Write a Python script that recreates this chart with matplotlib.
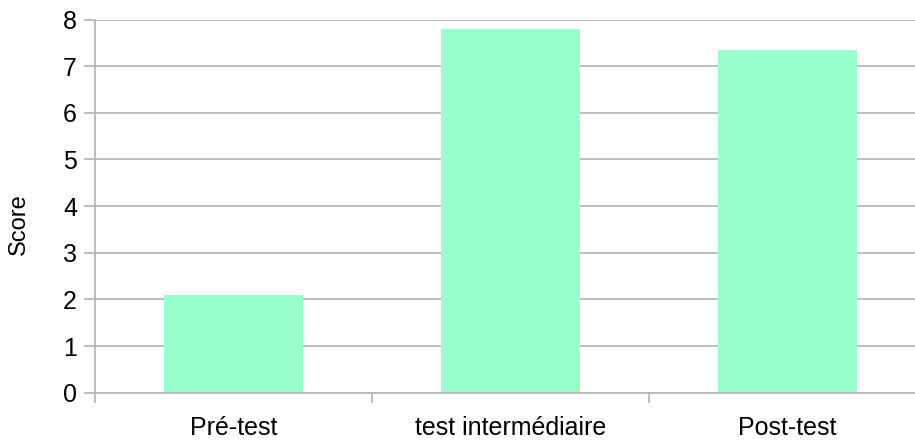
import matplotlib
matplotlib.use("Agg")
import matplotlib.pyplot as plt
import numpy as np

categories = ["Pré-test", "test intermédiaire", "Post-test"]
scores = [2.1, 7.8, 7.35]
y_ticks = [0, 1, 2, 3, 4, 5, 6, 7, 8]

plt.rcParams['font.family'] = ['Liberation Sans', 'DejaVu Sans']
W, H = 915, 441
fig = plt.figure(figsize=(W/100, H/100), dpi=100)
left, right, top, bottom = 95, 926, 19.5, 392.7
ax = fig.add_axes([left/W, 1 - bottom/H, (right-left)/W, (bottom-top)/H])

x = np.arange(len(categories))
ax.bar(x, scores, width=0.5, color="#99FFCC", zorder=2)
ax.set_xlim(-0.5, len(categories) - 0.5)
ax.set_ylim(0, 8)
ax.set_yticks(y_ticks)
ax.set_yticklabels([str(t) for t in y_ticks], fontsize=18)
ax.yaxis.grid(True, color="#b3b3b3", linewidth=1.2, zorder=0)
ax.set_axisbelow(True)

ax.set_xticks(np.arange(-0.5, len(categories), 1.0))
ax.set_xticklabels([])
ax.set_xticks(x, minor=True)
ax.set_xticklabels(categories, minor=True, fontsize=18)
ax.tick_params(axis='x', which='minor', length=0, pad=17)
ax.tick_params(axis='x', which='major', length=7.5, color="#b3b3b3", width=1.2)
ax.tick_params(axis='y', length=8, color="#b3b3b3", width=1.2, pad=5)

for s in ['top', 'right']:
    ax.spines[s].set_visible(False)
for s in ['left', 'bottom']:
    ax.spines[s].set_color("#b3b3b3")
    ax.spines[s].set_linewidth(1.2)

ax.set_ylabel("Score", fontsize=17)
ax.yaxis.set_label_coords(-(95 - 30) / (right - left), 1 - (224 - top) / (bottom - top))

fig.savefig("out.png", dpi=100)
